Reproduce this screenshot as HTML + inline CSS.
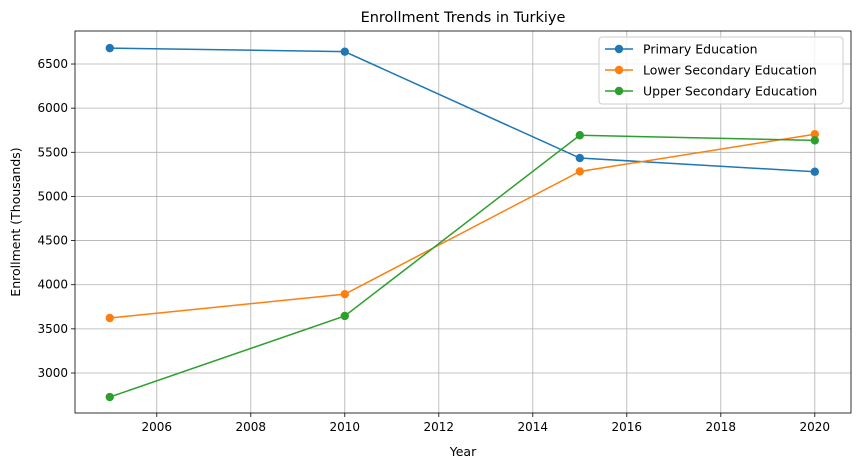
<!DOCTYPE html>
<html><head><meta charset="utf-8"><style>
body{margin:0;background:#fff;font-family:"Liberation Sans","DejaVu Sans",sans-serif;}
svg text{font-family:"DejaVu Sans","Liberation Sans",sans-serif;}
</style></head><body>
<svg id="chart" width="859" height="468" xmlns="http://www.w3.org/2000/svg">
<rect width="859" height="468" fill="#fff"/>
</svg>
<script>
const years=[2005,2010,2015,2020];
const primary=[6680,6640,5435,5280];
const lowerSec=[3623,3893,5283,5705];
const upperSec=[2728,3646,5693,5635];
const xTicks=[2006,2008,2010,2012,2014,2016,2018,2020];
const yTicks=[3000,3500,4000,4500,5000,5500,6000,6500];
const seriesNames=["Primary Education","Lower Secondary Education","Upper Secondary Education"];
const colors=["#1f77b4","#ff7f0e","#2ca02c"];

const L=75,R=851,T=31,B=413;
const xMin=2004.26,xMax=2020.77,yMin=2547,yMax=6874;
const xs=v=>L+(v-xMin)/(xMax-xMin)*(R-L);
const ys=v=>B-(v-yMin)/(yMax-yMin)*(B-T);
const svg=document.getElementById('chart');
const NS="http://www.w3.org/2000/svg";
function mk(tag,attrs,parent){const e=document.createElementNS(NS,tag);for(const k in attrs)e.setAttribute(k,attrs[k]);(parent||svg).appendChild(e);return e;}

const grid=mk('g',{});


xTicks.forEach(t=>{const x=xs(t);
 mk('line',{x1:x,x2:x,y1:T,y2:B,stroke:'#b0b0b0','stroke-width':0.8},grid);
 mk('line',{x1:x,x2:x,y1:B,y2:B+4,stroke:'#000','stroke-width':0.8});
 const tx=mk('text',{x:x,y:B+18,'text-anchor':'middle','font-size':12,fill:'#000'});tx.textContent=t;
 
 
});
yTicks.forEach(t=>{const y=ys(t);
 mk('line',{x1:L,x2:R,y1:y,y2:y,stroke:'#b0b0b0','stroke-width':0.8},grid);
 mk('line',{x1:L-4,x2:L,y1:y,y2:y,stroke:'#000','stroke-width':0.8});
 const tx=mk('text',{x:L-7,y:y+4,'text-anchor':'end','font-size':12,fill:'#000'});tx.textContent=t;
 
 
});

[primary,lowerSec,upperSec].forEach((s,i)=>{
 const g=mk('g',{});
 
 
 mk('polyline',{points:s.map((v,j)=>xs(years[j])+','+ys(v)).join(' '),fill:'none',stroke:colors[i],'stroke-width':1.5},g);
 s.forEach((v,j)=>{const c=mk('circle',{cx:xs(years[j]),cy:ys(v),r:4.2,fill:colors[i]},g);
  
  });
});

const frame=mk('rect',{x:L,y:T,width:R-L,height:B-T,fill:'none',stroke:'#000','stroke-width':0.8});



const title=mk('text',{x:(L+R)/2,y:22,'text-anchor':'middle','font-size':14.5});title.textContent='Enrollment Trends in Turkiye';


const xl=mk('text',{x:(L+R)/2,y:456,'text-anchor':'middle','font-size':12.5});xl.textContent='Year';


const yl=mk('text',{x:0,y:0,'text-anchor':'middle','font-size':12.5,transform:'translate(20,'+((T+B)/2)+') rotate(-90)'});yl.textContent='Enrollment (Thousands)';



const lg=mk('g',{});


mk('rect',{x:599,y:37,width:244,height:67,rx:3,fill:'#fff','fill-opacity':0.8,stroke:'#ccc','stroke-width':1},lg);
seriesNames.forEach((n,i)=>{const y=49+i*21;
 const e=mk('g',{},lg);
 
 
 mk('line',{x1:605,x2:633,y1:y,y2:y,stroke:colors[i],'stroke-width':1.5},e);
 mk('circle',{cx:619,cy:y,r:4.2,fill:colors[i]},e);
 const t=mk('text',{x:643,y:y+4.5,'font-size':12.5},e);t.textContent=n;
});
</script>
</body></html>
